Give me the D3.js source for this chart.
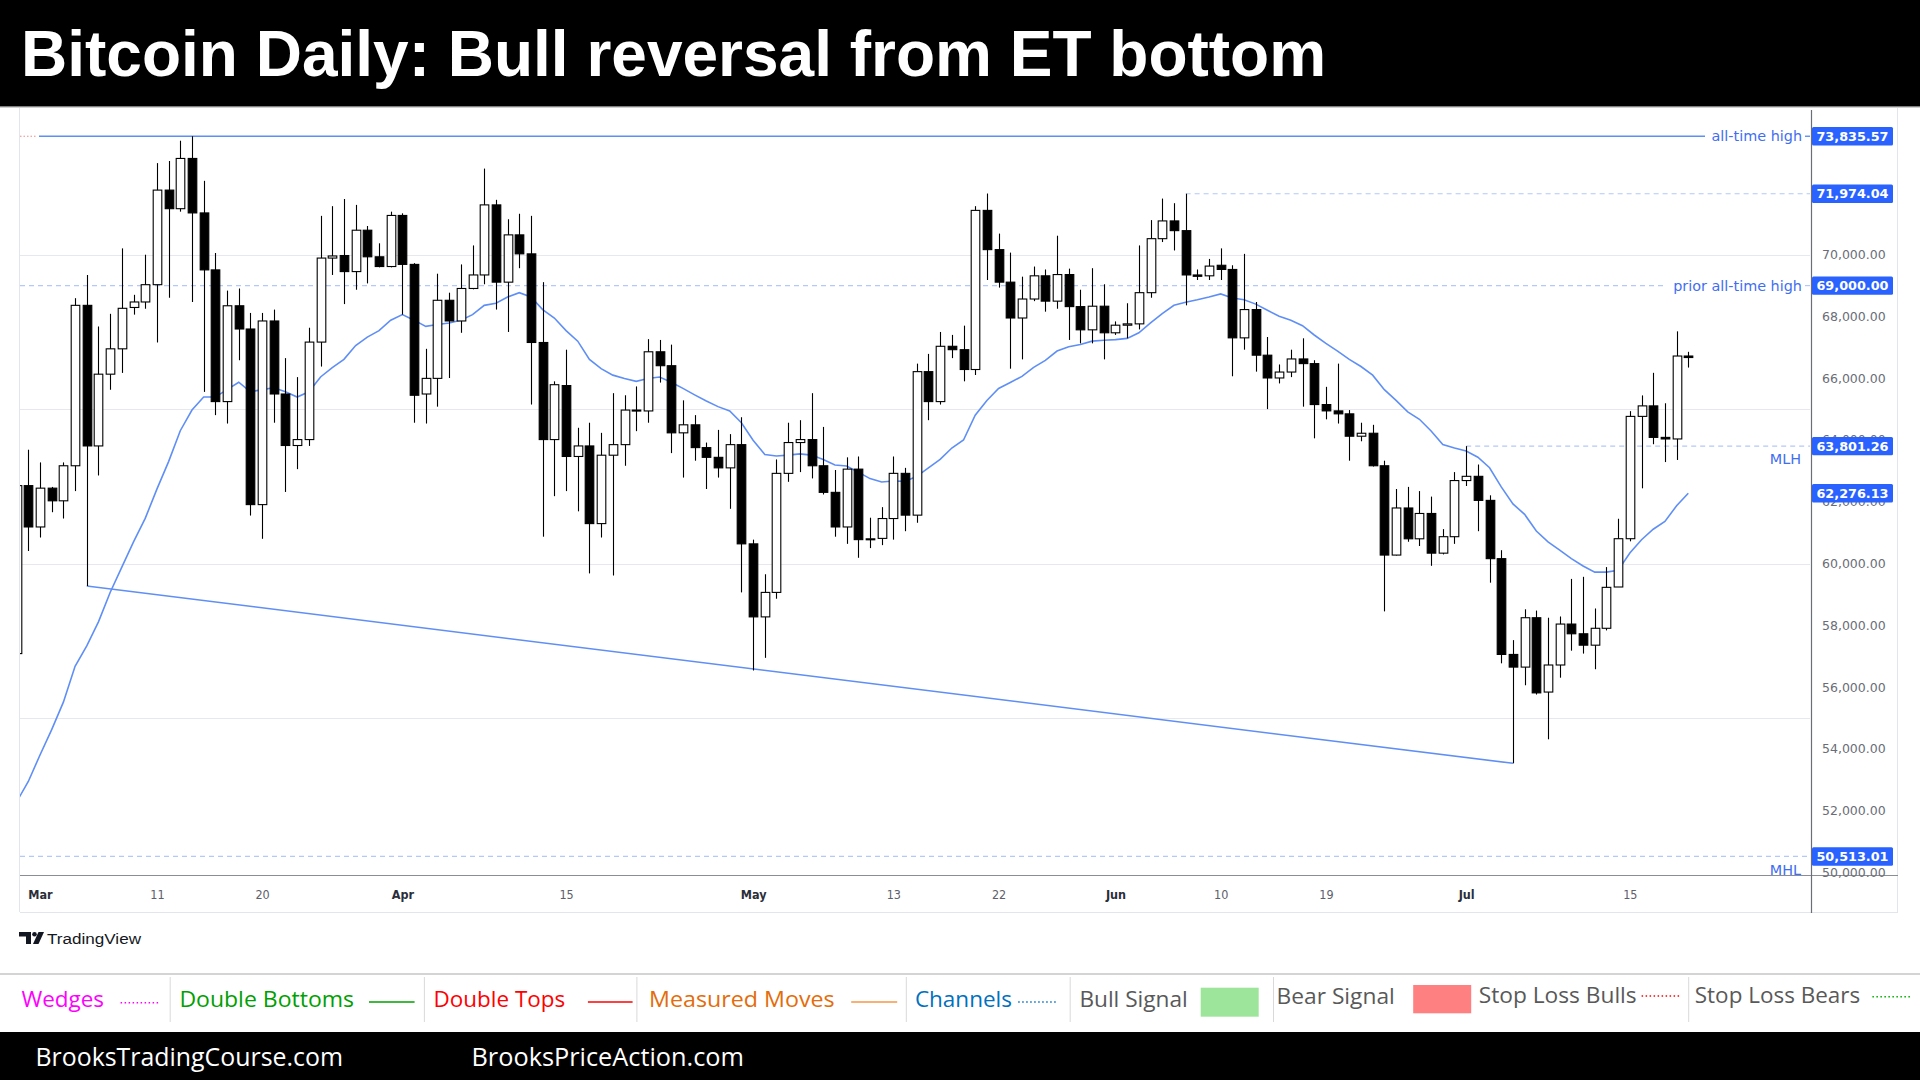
<!DOCTYPE html>
<html><head><meta charset="utf-8">
<script src="https://cdn.jsdelivr.net/npm/d3@7"></script>
<style>html,body{margin:0;padding:0;background:#fff;} svg{display:block;}</style>
</head><body>
<svg id="c" width="1920" height="1080"></svg>
<script>
// ---------------- DATA ----------------
const titleText = "Bitcoin Daily: Bull reversal from ET bottom";
const startDate = "2024-02-28";   // first (clipped) daily bar
const opens = [57082,62522,61183,62440,62030,63165,68360,63807,66131,66952,68291,68469,69029,72092,71490,73117,71353,69508,65243,68346,
67594,61907,67854,65489,63821,64013,67170,69891,69973,69453,70793,69932,69617,71271,69686,65489,65995,68524,67854,68906,
69344,71613,69111,70642,70027,67157,64013,65762,63466,63807,61292,63507,63849,64969,64940,66856,66405,64231,64491,63753,
63438,63097,63849,60636,58271,59064,62919,63917,64013,63165,62304,61183,63056,60773,60813,61456,62919,61566,66213,65243,
67034,66924,66282,71435,70164,69111,67950,68565,69316,68496,69357,68319,67567,68332,67471,67717,67760,68770,70519,71094,
70779,69344,69316,69658,69522,67307,68223,66746,66008,66200,66624,66473,65147,64942,64846,64122,64218,63165,60273,61798,
60800,61620,60335,60868,62686,62823,62044,60157,57055,56645,58244,55837,56713,58039,57724,57355,57902,59239,60803,64764,
65104,64084,64033,66719];
const highs = [63900,63685,63274,62480,63274,68592,69344,67676,68086,70205,68701,70000,72966,73035,73691,73836,72392,70055,68838,68906,
68114,68114,68223,66651,66036,67635,71258,71572,71804,71613,70930,70369,71394,71340,69727,66952,69385,68770,69686,70301,
72789,71777,71148,71326,71258,69111,65899,66924,64395,64559,64231,65516,65448,65735,67266,67239,67088,65284,64805,63917,
64327,64190,64737,60773,59652,63370,64559,64641,65516,64423,63028,63438,63466,61483,61825,63466,63097,66473,66788,67498,
67403,67703,71572,71982,70684,70068,69289,69617,69522,70615,69549,68865,69563,69043,67840,68428,70301,71121,71818,71668,
71974,69522,69863,70205,69658,70027,68469,67334,66446,66924,67293,66583,65721,66473,64969,64559,64491,63329,62413,62481,
62345,62167,61114,62960,63801,63206,62208,60431,57519,58517,58476,58244,58285,59501,59569,58544,59884,61449,64934,65444,
66175,65189,67518,66855];
const lows = [56700,60404,60841,61661,61456,62345,59269,62850,65626,66172,68059,68250,67157,68606,71394,68469,65557,64805,64532,66582,
61552,60800,64559,62317,63056,63807,66377,69344,68401,68865,69070,69590,69590,68059,64559,64532,65079,66008,67471,68879,
69043,68223,67498,69563,65147,60868,62181,62345,61689,59679,60841,59611,63165,64286,64559,65858,63575,62782,63329,62413,
62782,61771,59064,56535,56945,58859,62645,62960,62755,62235,60868,60636,60185,60499,60595,60773,61046,61319,64641,65147,
66651,65899,66104,69180,68934,66309,66610,68496,68155,68250,67239,67129,67129,66610,67403,67293,67580,68606,70410,70137,
68360,69180,69180,69180,66063,66924,66213,65000,65831,66036,65079,64053,64668,64532,63329,63958,63140,58449,60260,60704,
60567,59925,60294,60636,62509,61046,59379,56767,53528,56057,55756,54307,56302,57177,57082,56576,57833,59239,60718,62435,
63863,63285,63353,66345];
const closes = [62522,61183,62440,62030,63165,68360,63807,66131,66952,68264,68469,69029,72092,71490,73117,71353,69508,65243,68346,67594,
61907,67854,65489,63821,64013,67170,69891,69959,69453,70793,69932,69617,71271,69686,65448,65995,68524,67854,68906,69344,
71613,69111,70642,70027,67157,64013,65790,63466,63807,61292,63507,63849,64969,64940,66856,66405,64231,64491,63753,63438,
63097,63849,60636,58271,59064,62919,63917,64013,63165,62304,61183,63056,60773,60800,61456,62919,61566,66213,65243,67034,
66924,66282,71435,70164,69111,67950,68565,69316,68496,69357,68319,67567,68332,67471,67717,67760,68770,70519,71094,70779,
69344,69300,69631,69522,67307,68223,66746,66008,66200,66624,66473,65147,64942,64846,64122,64218,63165,60273,61798,60800,
61620,60335,60868,62686,62823,62044,60157,57055,56645,58244,55810,56713,58039,57724,57355,57902,59228,60803,64764,65104,
64084,64033,66719,66670];
const ema20 = [52280,52940,53800,54620,55510,56670,57330,58110,59060,59880,60700,61460,62410,63300,64300,64970,65390,65390,65630,65870,
65560,65630,65690,65560,65390,65560,66040,66340,66610,67060,67330,67540,67880,68060,67880,67680,67740,67790,67880,68060,
68360,68430,68630,68770,68630,68220,67950,67540,67200,66610,66310,66100,65990,65900,65990,66040,65870,65670,65460,65260,
65080,64940,64560,63990,63530,63480,63510,63550,63510,63370,63190,63160,62960,62750,62640,62670,62660,62820,63100,63370,
63740,64000,64800,65280,65670,65860,66060,66350,66580,66880,67020,67090,67200,67230,67250,67290,67470,67790,68090,68360,
68460,68540,68630,68730,68600,68540,68400,68200,68010,67880,67700,67400,67130,66880,66610,66380,66100,65630,65280,64910,
64670,64290,63850,63740,63640,63440,63100,62480,61930,61590,61050,60700,60430,60160,59920,59720,59720,59780,60340,60770,
61110,61360,61870,62276];
const tickDates = ["2024-03-01","2024-03-11","2024-03-20","2024-04-01","2024-04-15","2024-05-01","2024-05-13","2024-05-22","2024-06-01","2024-06-10","2024-06-19","2024-07-01","2024-07-15"];
const tickLabels = ["Mar","11","20","Apr","15","May","13","22","Jun","10","19","Jul","15"];
const monthLabels = ["Mar","Apr","May","Jun","Jul"];
const priceTicks = [50000,52000,54000,56000,58000,60000,62000,64000,66000,68000,70000,74000];
const gridPrices = [55000,60000,65000,70000];
const levelPrices = [73835.57,71974.04,69000.00,63801.26,62276.13,50513.01];
const triangleDates = ["2024-03-05","2024-07-05"];
const trianglePrices = [59269,53528];
const legendItems = ["Wedges","Double Bottoms","Double Tops","Measured Moves","Channels","Bull Signal","Bear Signal","Stop Loss Bulls","Stop Loss Bears"];
const footerTexts = ["BrooksTradingCourse.com","BrooksPriceAction.com"];

// ---------------- SETUP ----------------
const svg = d3.select("#c");
const parse = d3.utcParse("%Y-%m-%d");
const d0 = parse(startDate);
const dates = d3.utcDay.range(d0, d3.utcDay.offset(d0, closes.length));
const PL = 20, PR = 1810, PT = 108, PB = 874;
const x = d3.scaleUtc().domain([dates[0], dates[dates.length-1]]).range([16.62, 16.62 + (dates.length-1)*11.69]);
const y = d3.scaleLinear().domain([50000,70000]).range([872.3,254.7]);
const bars = dates.map((d,i)=>({d, o:opens[i], h:highs[i], l:lows[i], c:closes[i], e:ema20[i]}));

svg.append("rect").attr("width",1920).attr("height",1080).attr("fill","#fff");

// title bar
svg.append("rect").attr("x",0).attr("y",0).attr("width",1920).attr("height",106.5).attr("fill","#000");
svg.append("text").attr("x",21).attr("y",76).text(titleText)
  .attr("fill","#fff").attr("font-family","'Liberation Sans', Arial, sans-serif")
  .attr("font-weight","bold").attr("font-size",64);
svg.append("line").attr("x1",0).attr("x2",1920).attr("y1",107.5).attr("y2",107.5).attr("stroke","#d0d0d0");

// frame
const frame = svg.append("g").attr("stroke","#e3e5ec").attr("fill","none");
frame.append("line").attr("x1",PL-0.5).attr("x2",PL-0.5).attr("y1",PT).attr("y2",912);
frame.append("line").attr("x1",1897.5).attr("x2",1897.5).attr("y1",PT).attr("y2",912);
frame.append("line").attr("x1",PL).attr("x2",1898).attr("y1",912.5).attr("y2",912.5);

// clip
svg.append("defs").append("clipPath").attr("id","plot").append("rect")
  .attr("x",PL).attr("y",PT).attr("width",PR-PL).attr("height",PB-PT);
const plot = svg.append("g").attr("clip-path","url(#plot)");

// gridlines
plot.selectAll("line.grid").data(gridPrices).enter().append("line")
  .attr("x1",PL).attr("x2",PR).attr("y1",d=>Math.round(y(d))+0.5).attr("y2",d=>Math.round(y(d))+0.5)
  .attr("stroke","#e6e8ee").attr("stroke-width",1.2);

// level lines
const blueLine = "#5f8ff6", dashBlue = "#b4c8f9", annBlue = "#3f6ef2";
const yATH = y(levelPrices[0]);
plot.append("line").attr("x1",39).attr("x2",1705).attr("y1",yATH).attr("y2",yATH).attr("stroke",blueLine).attr("stroke-width",1.4);
plot.append("line").attr("x1",1805).attr("x2",PR).attr("y1",yATH).attr("y2",yATH).attr("stroke",blueLine).attr("stroke-width",1.4);
plot.append("line").attr("x1",PL).attr("x2",37).attr("y1",yATH).attr("y2",yATH).attr("stroke","#f08a8a").attr("stroke-width",1.2).attr("stroke-dasharray","1.5,2");
const dashLines = [
  {p:levelPrices[1], x1:x(dates[100]), x2:PR},
  {p:levelPrices[2], x1:PL, x2:1665},
  {p:levelPrices[2], x1:1805, x2:PR},
  {p:levelPrices[3], x1:x(dates[124]), x2:PR},
  {p:levelPrices[5], x1:PL, x2:PR}
];
plot.selectAll("line.dash").data(dashLines).enter().append("line")
  .attr("x1",d=>d.x1).attr("x2",d=>d.x2).attr("y1",d=>y(d.p)).attr("y2",d=>y(d.p))
  .attr("stroke",dashBlue).attr("stroke-width",1.2).attr("stroke-dasharray","5,4");

// annotations
const ann = svg.append("g").attr("font-family","'DejaVu Sans', sans-serif").attr("font-size",14.4).attr("fill",annBlue).attr("text-anchor","end");
ann.append("text").attr("x",1802).attr("y",yATH+5).text("all-time high");
ann.append("text").attr("x",1802).attr("y",y(69000)+5).text("prior all-time high");
ann.append("text").attr("x",1801).attr("y",y(levelPrices[3])+18).text("MLH");
ann.append("text").attr("x",1801).attr("y",y(levelPrices[5])+19).text("MHL");

// expanding triangle bottom line
plot.append("line")
  .attr("x1",x(parse(triangleDates[0]))).attr("y1",y(trianglePrices[0]))
  .attr("x2",x(parse(triangleDates[1]))).attr("y2",y(trianglePrices[1]))
  .attr("stroke",blueLine).attr("stroke-width",1.5);

// EMA
plot.append("path").datum(bars)
  .attr("d", d3.line().x(d=>x(d.d)).y(d=>y(d.e)).curve(d3.curveLinear))
  .attr("fill","none").attr("stroke",blueLine).attr("stroke-width",1.6);

// candles
const bw = 8.6;
const cg = plot.selectAll("g.c").data(bars).enter().append("g");
cg.append("line")
  .attr("x1",d=>Math.round(x(d.d))+0.5).attr("x2",d=>Math.round(x(d.d))+0.5)
  .attr("y1",d=>y(d.h)).attr("y2",d=>y(d.l)).attr("stroke","#000").attr("stroke-width",1.1);
cg.append("rect")
  .attr("x",d=>Math.round(x(d.d))+0.5-bw/2).attr("width",bw)
  .attr("y",d=>y(Math.max(d.o,d.c)))
  .attr("height",d=>Math.max(1, Math.abs(y(d.o)-y(d.c))))
  .attr("fill",d=>d.c>=d.o?"#fff":"#000").attr("stroke","#000").attr("stroke-width",1.1);

// x axis
svg.append("line").attr("x1",PL).attr("x2",1898).attr("y1",875.5).attr("y2",875.5).attr("stroke","#8a8d96").attr("stroke-width",1.2);
const xAxis = svg.append("g").attr("transform","translate(0,875)")
  .call(d3.axisBottom(x).tickValues(tickDates.map(parse)).tickFormat((d,i)=>tickLabels[i]).tickSize(0).tickPadding(15));
xAxis.select(".domain").remove();
xAxis.selectAll("text").attr("font-family","'DejaVu Sans Condensed','DejaVu Sans',sans-serif").attr("font-size",12.5)
  .attr("fill",function(){return monthLabels.includes(this.textContent)?"#2a2e39":"#5d606b";})
  .attr("font-weight",function(){return monthLabels.includes(this.textContent)?"bold":"normal";});

// right axis
svg.append("line").attr("x1",PR+1.5).attr("x2",PR+1.5).attr("y1",110).attr("y2",913).attr("stroke","#6b6e78").attr("stroke-width",1.2);
const yAxis = svg.append("g").attr("transform",`translate(${PR},0)`)
  .call(d3.axisRight(y).tickValues(priceTicks).tickFormat(d3.format(",.2f")).tickSize(0).tickPadding(12));
yAxis.select(".domain").remove();
yAxis.selectAll("text").attr("font-family","'DejaVu Sans',sans-serif").attr("font-size",12.5).attr("fill","#6a6d78");

// level boxes
const boxes = svg.append("g");
levelPrices.forEach(p=>{
  const cy = y(p);
  boxes.append("rect").attr("x",1812).attr("y",cy-9.2).attr("width",81).attr("height",18.4).attr("rx",1.5).attr("fill","#2962ff");
  boxes.append("text").attr("x",1852.5).attr("y",cy+4.6).attr("text-anchor","middle")
    .attr("font-family","'DejaVu Sans',sans-serif").attr("font-size",12.8).attr("font-weight","600").attr("fill","#fff")
    .text(d3.format(",.2f")(p));
});

// TradingView logo
const logo = svg.append("g").attr("fill","#131722");
logo.append("path").attr("d","M19,932 H31 V944 H26 V936.5 H19 Z");
logo.append("circle").attr("cx",34.5).attr("cy",934.3).attr("r",2.3);
logo.append("path").attr("d","M38.5,932 H44 L38.5,944 H33 Z");
svg.append("text").attr("x",47).attr("y",943.5).text("TradingView").attr("font-family","'Liberation Sans',Arial,sans-serif")
  .attr("font-size",15.5).attr("textLength",94).attr("lengthAdjust","spacingAndGlyphs").attr("fill","#131722");

// legend strip
svg.append("line").attr("x1",0).attr("x2",1920).attr("y1",974).attr("y2",974).attr("stroke","#d4d4d4").attr("stroke-width",2);
const lg = svg.append("g").attr("font-family","'Open Sans','Noto Sans',sans-serif").attr("font-size",21);
const legendPos = [
  {x:21.4, w:82.7, y:1006.5, c:"#ff00ff"},
  {x:179.4, w:174.6, y:1006.5, c:"#00a000"},
  {x:433.6, w:131.6, y:1006.5, c:"#ff0000"},
  {x:649.1, w:185.6, y:1006.5, c:"#e46c0a"},
  {x:914.9, w:97.1, y:1006.5, c:"#0070c0"},
  {x:1079.4, w:108.4, y:1006.5, c:"#595959"},
  {x:1276.6, w:118.2, y:1004, c:"#595959"},
  {x:1478.7, w:158, y:1003.3, c:"#595959"},
  {x:1694.8, w:165.4, y:1003, c:"#595959"}
];
legendItems.forEach((t,i)=>{
  const p = legendPos[i];
  lg.append("text").attr("x",p.x).attr("y",p.y).text(t).attr("fill",p.c)
    .attr("textLength",p.w).attr("lengthAdjust","spacingAndGlyphs");
});
const seps = [170.2,424.4,636.9,906.3,1070.2,1273.5,1688.7];
svg.selectAll("line.sep").data(seps).enter().append("line")
  .attr("x1",d=>d).attr("x2",d=>d).attr("y1",977).attr("y2",1022).attr("stroke","#d9d9d9");
const lgLines = [
  {x1:120.6,x2:160.4,y:1002.7,c:"#ff00ff",dash:"1.5,2.5"},
  {x1:369,x2:414.6,y:1002,c:"#00a000",dash:null},
  {x1:587.9,x2:632.6,y:1002,c:"#ff0000",dash:null},
  {x1:851.2,x2:897.2,y:1002,c:"#f79646",dash:null},
  {x1:1018.2,x2:1058,y:1002,c:"#0070c0",dash:"1.5,2.5"},
  {x1:1641.6,x2:1681.4,y:996,c:"#ff0000",dash:"1.5,2.5"},
  {x1:1872.4,x2:1911,y:996.7,c:"#00b000",dash:"1.5,2.5"}
];
lgLines.forEach(l=>{
  svg.append("line").attr("x1",l.x1).attr("x2",l.x2).attr("y1",l.y).attr("y2",l.y)
    .attr("stroke",l.c).attr("stroke-width",1.5).attr("stroke-dasharray",l.dash);
});
svg.append("rect").attr("x",1200.7).attr("y",987.7).attr("width",58).attr("height",29).attr("fill","#9de59a");
svg.append("rect").attr("x",1413.2).attr("y",985).attr("width",58).attr("height",28.3).attr("fill","#ff8080");

// footer
svg.append("rect").attr("x",0).attr("y",1032).attr("width",1920).attr("height",48).attr("fill","#000");
const ft = svg.append("g").attr("font-family","'Open Sans','Noto Sans',sans-serif").attr("font-size",25).attr("fill","#fff");
ft.append("text").attr("x",35.5).attr("y",1066).text(footerTexts[0]).attr("textLength",307.5).attr("lengthAdjust","spacingAndGlyphs");
ft.append("text").attr("x",471.5).attr("y",1066).text(footerTexts[1]).attr("textLength",272.5).attr("lengthAdjust","spacingAndGlyphs");
</script>
</body></html>
